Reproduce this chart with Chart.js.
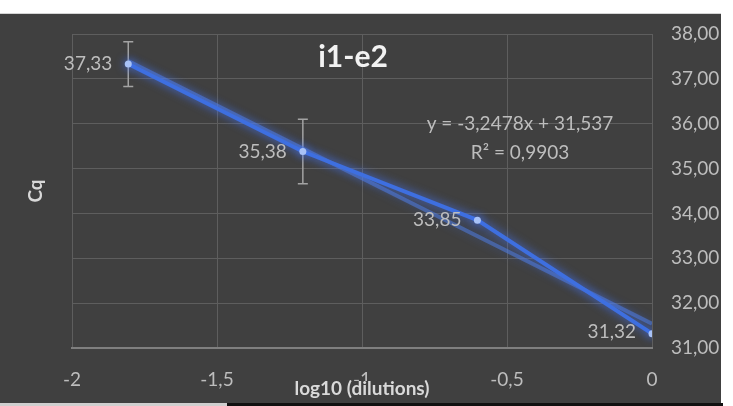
<!DOCTYPE html>
<html>
<head>
<meta charset="utf-8">
<script src="https://cdn.jsdelivr.net/npm/chart.js@4/dist/chart.umd.min.js"></script>
<style>
  html, body { margin: 0; padding: 0; background: #fff; }
  body { width: 733px; height: 406px; position: relative; overflow: hidden; }
  #panel { position: absolute; left: 0; top: 13px; width: 721px; height: 390px; background: #404040; border-top: 1px solid #d4d4d4; box-sizing: border-box; }
  #strip1 { position: absolute; left: 0; top: 403px; width: 227px; height: 3px; background: #cfcfcf; }
  #strip2 { position: absolute; left: 227px; top: 403px; width: 496px; height: 3px; background: #111; }
</style>
</head>
<body>
<div id="panel"><canvas id="cqChart" width="721" height="389"></canvas></div>
<div id="strip1"></div><div id="strip2"></div>
<script>
// данні: log10 розведень і Cq
var dilutionLog = [-1.806, -1.204, -0.602, 0];
var cqValues    = [37.33, 35.38, 33.85, 31.32];
var cqErrors    = [0.5, 0.72, 0, 0];
// лінія тренду (кінцеві точки, з графіка)
var trendX = [-1.806, 0];
var trendY = [37.40, 31.54];
var chartTitle = 'i1-e2';
var equationText = 'y = -3,2478x + 31,537';
var r2Text = 'R² = 0,9903';

var FONT = 'Lato, "DejaVu Sans", sans-serif';
var fmt = function (v, d) { return Number(v).toFixed(d).replace('.', ','); };

var glow = {
    id: 'glow',
    beforeDatasetDraw: function (chart, args) {
        var ctx = chart.ctx;
        ctx.save();
        ctx.shadowColor = args.index === 0 ? 'rgba(70,120,255,0.9)' : 'rgba(70,120,255,0.5)';
        ctx.shadowBlur = 10;
    },
    afterDatasetDraw: function (chart) { chart.ctx.restore(); }
};

var extras = {
    id: 'extras',
    beforeDatasetsDraw: function (chart) {
        var ctx = chart.ctx, xs = chart.scales.x, ys = chart.scales.y;
        ctx.save();
        ctx.strokeStyle = '#a3a3a3';
        ctx.lineWidth = 1.5;
        for (var i = 0; i < cqValues.length; i++) {
            if (!cqErrors[i]) continue;
            var px = xs.getPixelForValue(dilutionLog[i]);
            var top = ys.getPixelForValue(cqValues[i] + cqErrors[i]);
            var bot = ys.getPixelForValue(cqValues[i] - cqErrors[i]);
            ctx.beginPath();
            ctx.moveTo(px, top); ctx.lineTo(px, bot);
            ctx.moveTo(px - 5, top); ctx.lineTo(px + 5, top);
            ctx.moveTo(px - 5, bot); ctx.lineTo(px + 5, bot);
            ctx.stroke();
        }
        ctx.restore();
    },
    afterDatasetsDraw: function (chart) {
        var ctx = chart.ctx, xs = chart.scales.x, ys = chart.scales.y, area = chart.chartArea;
        ctx.save();
        // підписи значень
        ctx.font = '19px ' + FONT;
        ctx.fillStyle = '#bdbdbd';
        ctx.textAlign = 'right';
        ctx.textBaseline = 'middle';
        for (var i = 0; i < cqValues.length; i++) {
            ctx.fillText(fmt(cqValues[i], 2), xs.getPixelForValue(dilutionLog[i]) - 16, ys.getPixelForValue(cqValues[i]) - (i === 3 ? 2 : 0));
        }
        // рівняння
        ctx.textAlign = 'center';
        ctx.fillText(equationText, area.left + 448, area.top + 90);
        ctx.fillText(r2Text, area.left + 448, area.top + 119);
        // заголовок
        ctx.font = 'bold 30px ' + FONT;
        ctx.fillStyle = '#f2f2f2';
        ctx.fillText(chartTitle, area.left + 281, area.top + 23);
        // назва осі X з фоном
        ctx.font = 'bold 19px ' + FONT;
        var t = 'log10 (dilutions)';
        var w = ctx.measureText(t).width;
        var cx = xs.getPixelForValue(-1), cy = area.bottom + 41;
        ctx.fillStyle = '#404040';
        ctx.fillRect(cx - w / 2 - 2, cy - 8, w + 4, 22);
        ctx.fillStyle = '#d9d9d9';
        ctx.fillText(t, cx, cy);
        ctx.restore();
    }
};

new Chart(document.getElementById('cqChart'), {
    type: 'scatter',
    data: {
        datasets: [{
            data: dilutionLog.map(function (x, i) { return { x: x, y: cqValues[i] }; }),
            showLine: true,
            borderColor: '#3e6fe0',
            borderWidth: 4,
            pointRadius: 3.5,
            pointBackgroundColor: '#a8c2f7',
            pointBorderWidth: 0,
            yAxisID: 'y'
        }, {
            data: trendX.map(function (x, i) { return { x: x, y: trendY[i] }; }),
            showLine: true,
            borderColor: 'rgba(80,125,225,0.55)',
            borderWidth: 4,
            pointRadius: 0,
            yAxisID: 'y'
        }]
    },
    options: {
        responsive: false,
        animation: false,
        layout: { autoPadding: false, padding: { top: 20, left: 0, right: 0, bottom: 0 } },
        plugins: { legend: { display: false }, tooltip: { enabled: false } },
        scales: {
            x: {
                type: 'linear', min: -2, max: 0,
                ticks: { stepSize: 0.5, padding: 0, color: '#bdbdbd', font: { family: FONT, size: 19 },
                    callback: function (v) { return String(v).replace('.', ','); } },
                grid: { color: '#5e5e5e', lineWidth: 1, tickLength: 20, tickColor: 'rgba(0,0,0,0)' },
                border: { color: '#7f7f7f', width: 2 },
                afterFit: function (s) { s.height = 55; }
            },
            y: {
                type: 'linear', position: 'right', min: 31, max: 38,
                ticks: { stepSize: 1, padding: 0, color: '#bdbdbd', font: { family: FONT, size: 19 },
                    callback: function (v) { return fmt(v, 2); } },
                grid: { color: '#5e5e5e', lineWidth: 1, tickLength: 19, tickColor: 'rgba(0,0,0,0)' },
                border: { display: false },
                afterFit: function (s) { s.width = 69; }
            },
            y2: {
                type: 'linear', position: 'left', min: 31, max: 38,
                ticks: { display: false },
                grid: { display: false, drawTicks: false },
                border: { display: false },
                title: { display: true, text: 'Cq', color: '#d9d9d9', font: { family: FONT, size: 19, weight: 'bold' }, padding: { top: 24 } },
                afterFit: function (s) { s.width = 72; }
            }
        }
    },
    plugins: [glow, extras]
});
</script>
</body>
</html>
